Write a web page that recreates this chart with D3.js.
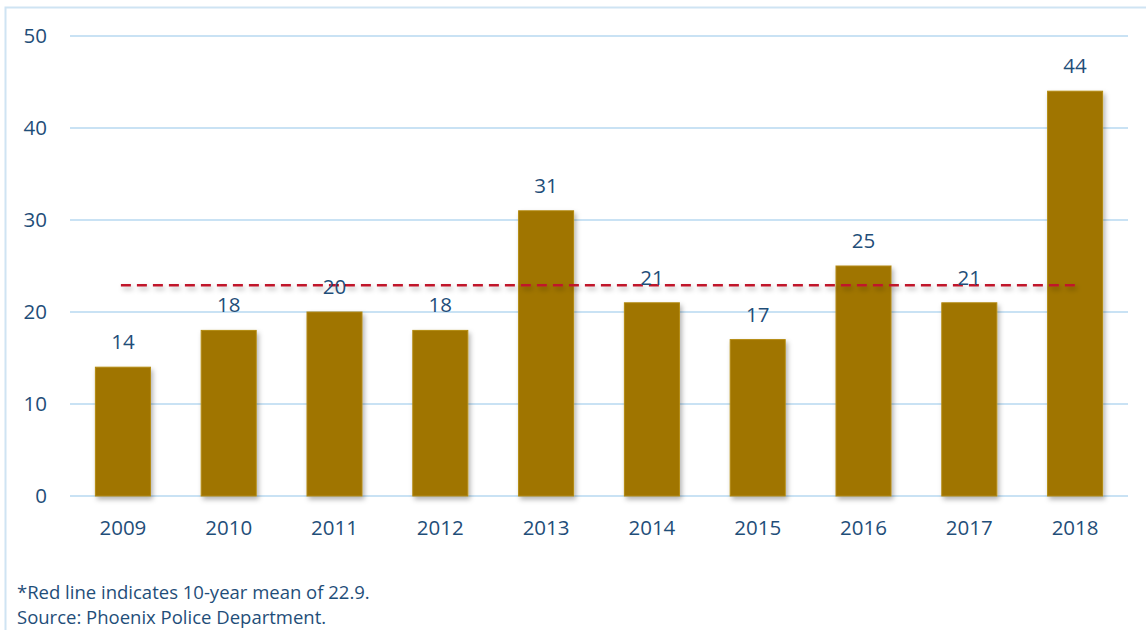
<!DOCTYPE html>
<html>
<head>
<meta charset="utf-8">
<script src="https://cdn.jsdelivr.net/npm/d3@7"></script>
<style>
  body { margin: 0; background: #fff; }
  svg text { font-family: "Open Sans", "Noto Sans", sans-serif; fill: #1f4e79; }
</style>
</head>
<body>
<div id="chart"></div>
<script>
const years = ['2009','2010','2011','2012','2013','2014','2015','2016','2017','2018'];
const counts = [14, 18, 20, 18, 31, 21, 17, 25, 21, 44];
const meanValue = 22.9;
const yTicks = [0, 10, 20, 30, 40, 50];
const notes = ['*Red line indicates 10-year mean of 22.9.', 'Source: Phoenix Police Department.'];

const W = 1146, H = 630;
const margin = { top: 36, right: 18, bottom: 134, left: 70 };
const width = W - margin.left - margin.right;
const height = H - margin.top - margin.bottom;

const svg = d3.select('#chart').append('svg')
  .attr('width', W).attr('height', H);

// drop shadow like the office export (user space so flat lines keep it)
const defs = svg.append('defs');
const f = defs.append('filter').attr('id', 'shadow')
  .attr('filterUnits', 'userSpaceOnUse')
  .attr('x', 0).attr('y', 0).attr('width', W).attr('height', H);
f.append('feDropShadow').attr('dx', 2).attr('dy', 3).attr('stdDeviation', 2.5)
  .attr('flood-color', '#000').attr('flood-opacity', 0.3);

// frame
svg.append('path')
  .attr('d', `M5.5,${H} V7.5 H${W}`)
  .attr('fill', 'none').attr('stroke', '#cfe4f3').attr('stroke-width', 2);

const g = svg.append('g').attr('transform', `translate(${margin.left},${margin.top})`);

const x = d3.scaleBand().domain(years).range([0, width]).paddingInner(0.48).paddingOuter(0.24);
const y = d3.scaleLinear().domain([0, 50]).range([height, 0]);

// grid
g.append('g').selectAll('line').data(yTicks).join('line')
  .attr('x1', 0).attr('x2', width)
  .attr('y1', d => y(d)).attr('y2', d => y(d))
  .attr('stroke', '#c9e2f4').attr('stroke-width', 2);

// y labels
g.append('g').selectAll('text').data(yTicks).join('text')
  .attr('x', -23).attr('y', d => y(d)).attr('dy', '0.35em')
  .attr('text-anchor', 'end').attr('font-size', 20.5)
  .text(d => d);

// bars
g.append('g').selectAll('rect').data(counts).join('rect')
  .attr('x', (d, i) => x(years[i]))
  .attr('y', d => y(d))
  .attr('width', x.bandwidth())
  .attr('height', d => height - y(d))
  .attr('fill', '#a07400')
  .attr('stroke', '#b38a12').attr('stroke-width', 1)
  .attr('filter', 'url(#shadow)');

// mean line
g.append('line')
  .attr('x1', x(years[0]) + x.bandwidth() / 2 - 2)
  .attr('x2', x(years[years.length - 1]) + x.bandwidth() / 2 + 2)
  .attr('y1', y(meanValue)).attr('y2', y(meanValue))
  .attr('stroke', '#c0142c').attr('stroke-width', 2.5)
  .attr('stroke-dasharray', '10,6')
  .attr('filter', 'url(#shadow)');

// value labels
g.append('g').selectAll('text').data(counts).join('text')
  .attr('x', (d, i) => x(years[i]) + x.bandwidth() / 2)
  .attr('y', d => y(d) - 18)
  .attr('text-anchor', 'middle').attr('font-size', 20.5)
  .text(d => d);

// x labels
g.append('g').selectAll('text').data(years).join('text')
  .attr('x', d => x(d) + x.bandwidth() / 2)
  .attr('y', height + 39)
  .attr('text-anchor', 'middle').attr('font-size', 20.5)
  .text(d => d);

// footnotes
svg.append('g').selectAll('text').data(notes).join('text')
  .attr('x', 17).attr('y', (d, i) => 599 + i * 25)
  .attr('font-size', 18.5)
  .text(d => d);
</script>
</body>
</html>
